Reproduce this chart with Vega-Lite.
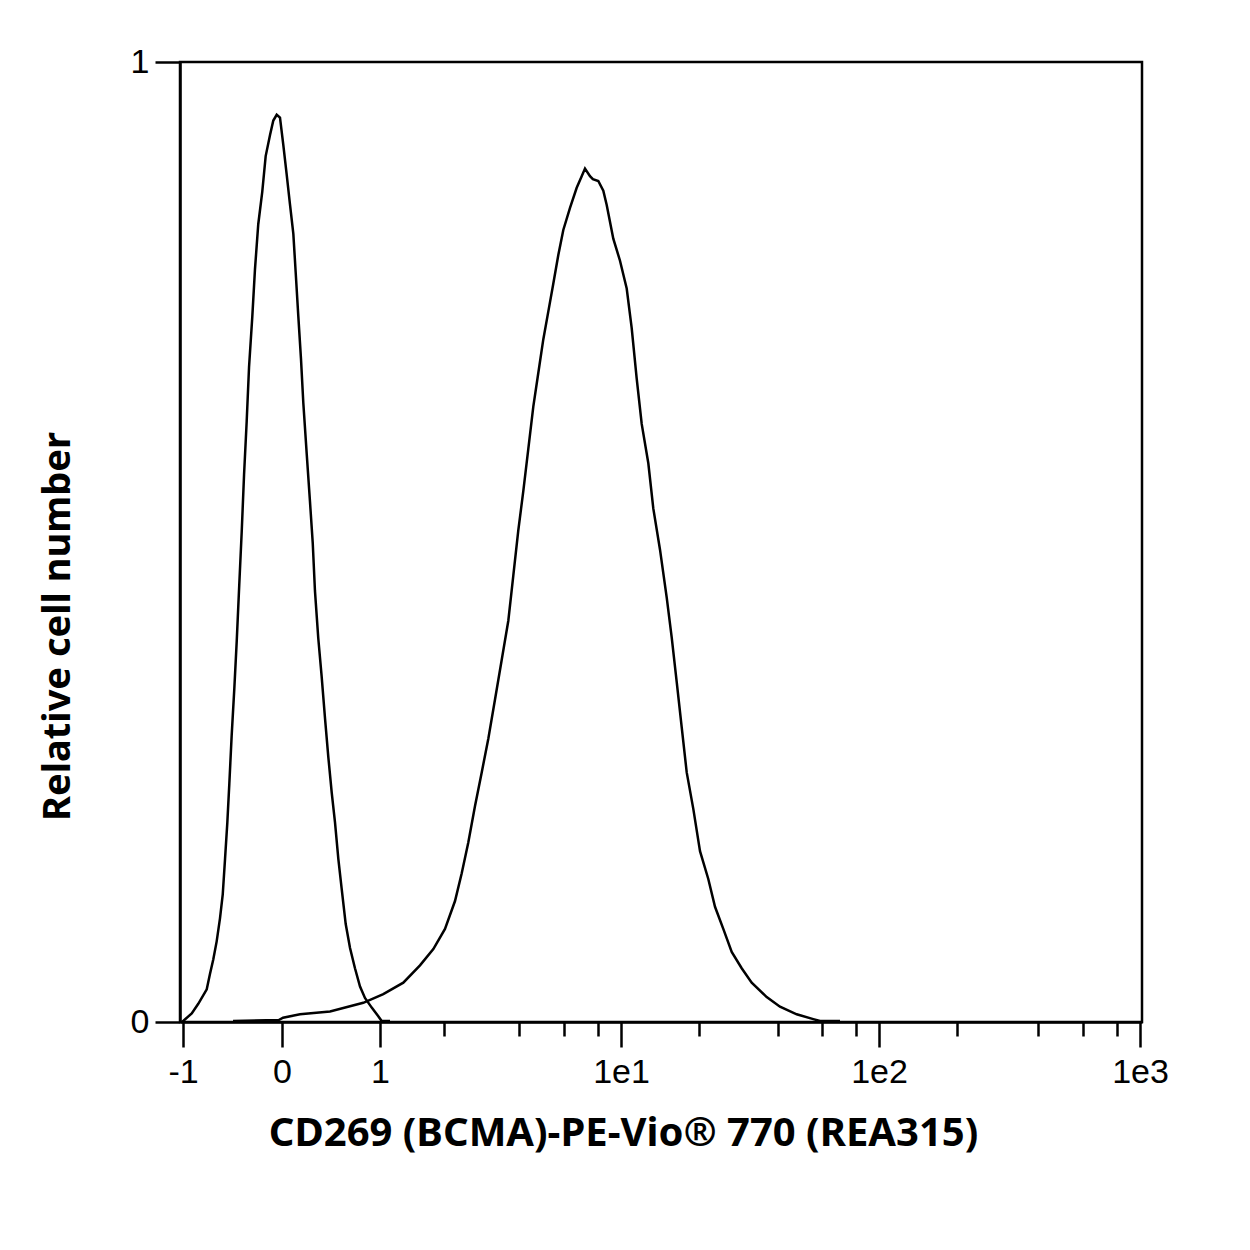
{
  "$schema": "https://vega.github.io/schema/vega-lite/v6.json",
  "width": 962,
  "height": 960,
  "autosize": {"type": "none"},
  "padding": {"left": 180, "top": 62, "right": 108, "bottom": 228},
  "background": "white",
  "config": {"view": {"stroke": "black", "strokeWidth": 2.5}},
  "datasets": {
    "hist": [
      {"sample": "control", "fluorescence": -1.01, "relative": 0},
      {"sample": "control", "fluorescence": -0.905, "relative": 0.009},
      {"sample": "control", "fluorescence": -0.834, "relative": 0.019},
      {"sample": "control", "fluorescence": -0.742, "relative": 0.034},
      {"sample": "control", "fluorescence": -0.707, "relative": 0.05},
      {"sample": "control", "fluorescence": -0.671, "relative": 0.065},
      {"sample": "control", "fluorescence": -0.634, "relative": 0.084},
      {"sample": "control", "fluorescence": -0.598, "relative": 0.108},
      {"sample": "control", "fluorescence": -0.568, "relative": 0.133},
      {"sample": "control", "fluorescence": -0.543, "relative": 0.17},
      {"sample": "control", "fluorescence": -0.518, "relative": 0.208},
      {"sample": "control", "fluorescence": -0.497, "relative": 0.248},
      {"sample": "control", "fluorescence": -0.475, "relative": 0.298},
      {"sample": "control", "fluorescence": -0.45, "relative": 0.347},
      {"sample": "control", "fluorescence": -0.427, "relative": 0.397},
      {"sample": "control", "fluorescence": -0.403, "relative": 0.456},
      {"sample": "control", "fluorescence": -0.38, "relative": 0.511},
      {"sample": "control", "fluorescence": -0.358, "relative": 0.57},
      {"sample": "control", "fluorescence": -0.333, "relative": 0.626},
      {"sample": "control", "fluorescence": -0.311, "relative": 0.682},
      {"sample": "control", "fluorescence": -0.28, "relative": 0.735},
      {"sample": "control", "fluorescence": -0.255, "relative": 0.784},
      {"sample": "control", "fluorescence": -0.224, "relative": 0.831},
      {"sample": "control", "fluorescence": -0.186, "relative": 0.865},
      {"sample": "control", "fluorescence": -0.154, "relative": 0.902},
      {"sample": "control", "fluorescence": -0.113, "relative": 0.924},
      {"sample": "control", "fluorescence": -0.082, "relative": 0.939},
      {"sample": "control", "fluorescence": -0.05, "relative": 0.945},
      {"sample": "control", "fluorescence": -0.019, "relative": 0.942},
      {"sample": "control", "fluorescence": 0.012, "relative": 0.914},
      {"sample": "control", "fluorescence": 0.044, "relative": 0.883},
      {"sample": "control", "fluorescence": 0.075, "relative": 0.852},
      {"sample": "control", "fluorescence": 0.107, "relative": 0.821},
      {"sample": "control", "fluorescence": 0.129, "relative": 0.781},
      {"sample": "control", "fluorescence": 0.154, "relative": 0.735},
      {"sample": "control", "fluorescence": 0.179, "relative": 0.691},
      {"sample": "control", "fluorescence": 0.201, "relative": 0.645},
      {"sample": "control", "fluorescence": 0.233, "relative": 0.592},
      {"sample": "control", "fluorescence": 0.264, "relative": 0.542},
      {"sample": "control", "fluorescence": 0.29, "relative": 0.499},
      {"sample": "control", "fluorescence": 0.311, "relative": 0.449},
      {"sample": "control", "fluorescence": 0.342, "relative": 0.4},
      {"sample": "control", "fluorescence": 0.374, "relative": 0.36},
      {"sample": "control", "fluorescence": 0.406, "relative": 0.316},
      {"sample": "control", "fluorescence": 0.437, "relative": 0.276},
      {"sample": "control", "fluorescence": 0.469, "relative": 0.239},
      {"sample": "control", "fluorescence": 0.5, "relative": 0.208},
      {"sample": "control", "fluorescence": 0.537, "relative": 0.17},
      {"sample": "control", "fluorescence": 0.574, "relative": 0.139},
      {"sample": "control", "fluorescence": 0.619, "relative": 0.102},
      {"sample": "control", "fluorescence": 0.667, "relative": 0.077},
      {"sample": "control", "fluorescence": 0.722, "relative": 0.056},
      {"sample": "control", "fluorescence": 0.778, "relative": 0.037},
      {"sample": "control", "fluorescence": 0.833, "relative": 0.025},
      {"sample": "control", "fluorescence": 0.908, "relative": 0.015},
      {"sample": "control", "fluorescence": 0.981, "relative": 0.006},
      {"sample": "control", "fluorescence": 1.024, "relative": 0.001},
      {"sample": "control", "fluorescence": 1.143, "relative": 0.001},
      {"sample": "stained", "fluorescence": -0.462, "relative": 0.001},
      {"sample": "stained", "fluorescence": -0.03, "relative": 0.002},
      {"sample": "stained", "fluorescence": 0.01, "relative": 0.0045},
      {"sample": "stained", "fluorescence": 0.17, "relative": 0.008},
      {"sample": "stained", "fluorescence": 0.453, "relative": 0.011},
      {"sample": "stained", "fluorescence": 0.814, "relative": 0.02},
      {"sample": "stained", "fluorescence": 1.047, "relative": 0.029},
      {"sample": "stained", "fluorescence": 1.333, "relative": 0.041},
      {"sample": "stained", "fluorescence": 1.586, "relative": 0.059},
      {"sample": "stained", "fluorescence": 1.816, "relative": 0.076},
      {"sample": "stained", "fluorescence": 2.023, "relative": 0.097},
      {"sample": "stained", "fluorescence": 2.256, "relative": 0.126},
      {"sample": "stained", "fluorescence": 2.412, "relative": 0.155},
      {"sample": "stained", "fluorescence": 2.565, "relative": 0.187},
      {"sample": "stained", "fluorescence": 2.721, "relative": 0.225},
      {"sample": "stained", "fluorescence": 2.877, "relative": 0.26},
      {"sample": "stained", "fluorescence": 3.041, "relative": 0.295},
      {"sample": "stained", "fluorescence": 3.25, "relative": 0.336},
      {"sample": "stained", "fluorescence": 3.459, "relative": 0.377},
      {"sample": "stained", "fluorescence": 3.666, "relative": 0.418},
      {"sample": "stained", "fluorescence": 3.822, "relative": 0.465},
      {"sample": "stained", "fluorescence": 3.978, "relative": 0.512},
      {"sample": "stained", "fluorescence": 4.179, "relative": 0.553},
      {"sample": "stained", "fluorescence": 4.388, "relative": 0.597},
      {"sample": "stained", "fluorescence": 4.596, "relative": 0.641},
      {"sample": "stained", "fluorescence": 4.804, "relative": 0.676},
      {"sample": "stained", "fluorescence": 5.014, "relative": 0.711},
      {"sample": "stained", "fluorescence": 5.252, "relative": 0.74},
      {"sample": "stained", "fluorescence": 5.49, "relative": 0.769},
      {"sample": "stained", "fluorescence": 5.729, "relative": 0.799},
      {"sample": "stained", "fluorescence": 5.967, "relative": 0.825},
      {"sample": "stained", "fluorescence": 6.353, "relative": 0.848},
      {"sample": "stained", "fluorescence": 6.747, "relative": 0.869},
      {"sample": "stained", "fluorescence": 7.041, "relative": 0.881},
      {"sample": "stained", "fluorescence": 7.235, "relative": 0.889},
      {"sample": "stained", "fluorescence": 7.529, "relative": 0.881},
      {"sample": "stained", "fluorescence": 7.7, "relative": 0.878},
      {"sample": "stained", "fluorescence": 8.026, "relative": 0.876},
      {"sample": "stained", "fluorescence": 8.461, "relative": 0.866},
      {"sample": "stained", "fluorescence": 8.757, "relative": 0.851},
      {"sample": "stained", "fluorescence": 9.33, "relative": 0.816},
      {"sample": "stained", "fluorescence": 9.913, "relative": 0.793},
      {"sample": "stained", "fluorescence": 10.62, "relative": 0.764},
      {"sample": "stained", "fluorescence": 11.16, "relative": 0.723},
      {"sample": "stained", "fluorescence": 11.71, "relative": 0.67},
      {"sample": "stained", "fluorescence": 12.25, "relative": 0.623},
      {"sample": "stained", "fluorescence": 12.97, "relative": 0.582},
      {"sample": "stained", "fluorescence": 13.51, "relative": 0.535},
      {"sample": "stained", "fluorescence": 14.24, "relative": 0.492},
      {"sample": "stained", "fluorescence": 14.97, "relative": 0.442},
      {"sample": "stained", "fluorescence": 15.73, "relative": 0.401},
      {"sample": "stained", "fluorescence": 16.52, "relative": 0.354},
      {"sample": "stained", "fluorescence": 17.3, "relative": 0.307},
      {"sample": "stained", "fluorescence": 18.08, "relative": 0.26},
      {"sample": "stained", "fluorescence": 19.11, "relative": 0.222},
      {"sample": "stained", "fluorescence": 20.22, "relative": 0.178},
      {"sample": "stained", "fluorescence": 22.02, "relative": 0.149},
      {"sample": "stained", "fluorescence": 23.48, "relative": 0.12},
      {"sample": "stained", "fluorescence": 25.28, "relative": 0.097},
      {"sample": "stained", "fluorescence": 27.11, "relative": 0.073},
      {"sample": "stained", "fluorescence": 29.28, "relative": 0.056},
      {"sample": "stained", "fluorescence": 32.03, "relative": 0.041},
      {"sample": "stained", "fluorescence": 36.58, "relative": 0.026},
      {"sample": "stained", "fluorescence": 40.8, "relative": 0.016},
      {"sample": "stained", "fluorescence": 47.48, "relative": 0.008},
      {"sample": "stained", "fluorescence": 55.42, "relative": 0.003},
      {"sample": "stained", "fluorescence": 58.95, "relative": 0.001},
      {"sample": "stained", "fluorescence": 70.6, "relative": 0.001}
    ]
  },
  "data": {"name": "hist"},
  "mark": {"type": "line", "color": "black", "strokeWidth": 2.5, "clip": true},
  "encoding": {
    "detail": {"field": "sample", "type": "nominal"},
    "x": {
      "field": "fluorescence",
      "type": "quantitative",
      "scale": {
        "type": "linear",
        "nice": false,
        "zero": false,
        "domain": [-1.033, -1, -0.5, 0, 0.5, 1, 1.5, 2, 3, 4, 5, 6, 8, 10, 15, 20, 30, 40, 50, 60, 80, 100, 150, 200, 300, 400, 600, 800, 1000, 1017],
        "range": [0, 3, 49, 102, 155, 200, 235, 264, 307, 339, 363, 384, 418, 441, 487, 519, 565, 598, 623, 642, 676, 699, 746, 777, 824, 858, 903, 937, 960, 962]
      },
      "axis": {
        "values": [-1, 0, 1, 2, 4, 6, 8, 10, 20, 40, 60, 80, 100, 200, 400, 600, 800, 1000],
        "labelExpr": "datum.value == -1 ? '-1' : datum.value == 0 ? '0' : datum.value == 1 ? '1' : datum.value == 10 ? '1e1' : datum.value == 100 ? '1e2' : datum.value == 1000 ? '1e3' : ''",
        "tickSize": {"condition": {"test": "datum.value == -1 || datum.value == 0 || datum.value == 1 || datum.value == 10 || datum.value == 100 || datum.value == 1000", "value": 25}, "value": 14},
        "tickWidth": 2.5,
        "tickColor": "black",
        "domainColor": "black",
        "domainWidth": 2.5,
        "grid": false,
        "labelFont": "Liberation Sans",
        "labelFontSize": 34,
        "labelColor": "black",
        "labelPadding": 8,
        "labelFlush": false,
        "labelOverlap": false,
        "title": "CD269 (BCMA)-PE-Vio® 770 (REA315)",
        "titleFont": "Noto Sans",
        "titleFontSize": 40,
        "titleFontWeight": "bold",
        "titleColor": "black",
        "titleX": 443,
        "titleY": 123,
        "titleAlign": "center",
        "titleBaseline": "alphabetic"
      }
    },
    "y": {
      "field": "relative",
      "type": "quantitative",
      "scale": {"domain": [0, 1], "nice": false, "zero": true},
      "axis": {
        "values": [0, 1],
        "labelExpr": "datum.value == 1 ? '1' : '0'",
        "tickSize": 25,
        "tickWidth": 2.5,
        "tickColor": "black",
        "domainColor": "black",
        "domainWidth": 2.5,
        "grid": false,
        "labelFont": "Liberation Sans",
        "labelFontSize": 34,
        "labelColor": "black",
        "labelPadding": 6,
        "labelFlush": false,
        "labelOverlap": false,
        "title": "Relative cell number",
        "titleFont": "Noto Sans",
        "titleFontSize": 38,
        "titleFontWeight": "bold",
        "titleColor": "black",
        "titleAngle": -90,
        "titleX": -111,
        "titleY": 564,
        "titleAlign": "center",
        "titleBaseline": "alphabetic"
      }
    }
  }
}
